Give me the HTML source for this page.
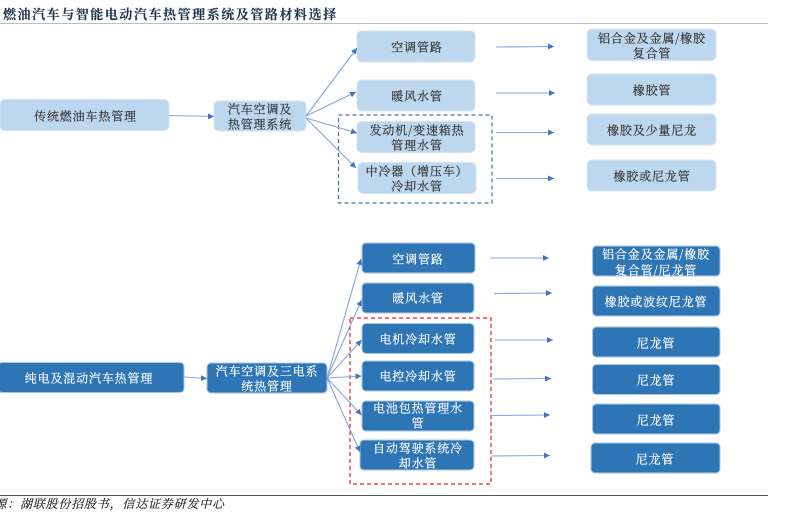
<!DOCTYPE html>
<html><head><meta charset="utf-8">
<style>
html,body{margin:0;padding:0;background:#fff;width:785px;height:529px;overflow:hidden}
svg{display:block;filter:blur(.35px)}
text{font-family:"Noto Serif CJK SC","Liberation Serif",serif;font-size:12px;letter-spacing:.85px;text-anchor:middle}
.l{fill:#bdd7ee;stroke:#d3e3f4;stroke-width:1}
.d{fill:#2e75b6;stroke:#a9c6e6;stroke-width:1}
.lt text{fill:#333;stroke:#333;stroke-width:.2}
.dt text{fill:#fff;stroke:#fff;stroke-width:.2}
.c line{stroke:#86a6dc;stroke-width:1.1}
</style></head><body>
<svg width="785" height="529" viewBox="0 0 785 529" xmlns="http://www.w3.org/2000/svg">
<defs><marker id="a" markerWidth="7" markerHeight="7" refX="6" refY="3" orient="auto" markerUnits="userSpaceOnUse"><path d="M0 0L6 3L0 6Z" fill="#4472c4"/></marker></defs>

<text x="3" y="19" style="text-anchor:start;font-size:13px;letter-spacing:1.55px;font-weight:700;fill:#1f3550;stroke:#1f3550;stroke-width:.15">燃油汽车与智能电动汽车热管理系统及管路材料选择</text>
<line x1="0" y1="23.5" x2="768" y2="23.5" stroke="#bdbdbd"/>
<line x1="0" y1="495.5" x2="768" y2="495.5" stroke="#555"/>
<text x="-5.6" y="508" style="text-anchor:start;font-style:italic;letter-spacing:.8px;fill:#222;stroke:#222;stroke-width:.15">源：湖联股份招股书，信达证券研发中心</text>

<g>
<rect class="l" x="0" y="99.5" width="169" height="31" rx="5"/>
<rect class="l" x="214" y="101" width="92" height="30" rx="5"/>
<rect class="l" x="357" y="31" width="118" height="31" rx="5"/>
<rect class="l" x="357" y="80" width="118" height="31" rx="5"/>
<rect class="l" x="357" y="121.5" width="118" height="31" rx="5"/>
<rect class="l" x="358" y="162.5" width="118" height="31" rx="5"/>
<rect class="l" x="587" y="29" width="129" height="31.5" rx="5"/>
<rect class="l" x="587" y="74" width="129" height="31" rx="5"/>
<rect class="l" x="587" y="114" width="129" height="31" rx="5"/>
<rect class="l" x="587" y="160" width="129" height="31" rx="5"/>

<rect class="d" x="-2" y="362.5" width="186" height="30" rx="4"/>
<rect class="d" x="207" y="363" width="120" height="30" rx="4"/>
<rect class="d" x="362" y="243" width="113" height="30" rx="4"/>
<rect class="d" x="362" y="283" width="112" height="30" rx="4"/>
<rect class="d" x="362" y="323.5" width="112" height="30" rx="4"/>
<rect class="d" x="362" y="361" width="112" height="30" rx="4"/>
<rect class="d" x="362" y="401" width="112" height="30" rx="4"/>
<rect class="d" x="360" y="440" width="114" height="30" rx="4"/>
<rect class="d" x="592.5" y="246" width="127.5" height="30" rx="4"/>
<rect class="d" x="592.5" y="286" width="127.5" height="30" rx="4"/>
<rect class="d" x="592.5" y="327" width="127.5" height="30" rx="4"/>
<rect class="d" x="592.5" y="364.5" width="127.5" height="30" rx="4"/>
<rect class="d" x="592.5" y="404" width="127.5" height="30" rx="4"/>
<rect class="d" x="591" y="443" width="129" height="30" rx="4"/>
</g>

<rect x="338.5" y="115" width="153.5" height="88" fill="none" stroke="#4a6fa8" stroke-width="1.2" stroke-dasharray="4 3"/>
<rect x="350" y="318" width="141" height="166" fill="none" stroke="#f01c2c" stroke-width="1.2" stroke-dasharray="4 3"/>

<g class="c">
<line x1="169" y1="115.5" x2="214" y2="116.5" marker-end="url(#a)"/>
<line x1="306" y1="116" x2="357" y2="48" marker-end="url(#a)"/>
<line x1="306" y1="116" x2="356" y2="92" marker-end="url(#a)"/>
<line x1="306" y1="118" x2="357" y2="133" marker-end="url(#a)"/>
<line x1="306" y1="118" x2="356" y2="168" marker-end="url(#a)"/>
<line x1="496" y1="47" x2="554" y2="46.5" marker-end="url(#a)"/>
<line x1="496" y1="93" x2="555" y2="93" marker-end="url(#a)"/>
<line x1="496" y1="132.5" x2="554" y2="132.5" marker-end="url(#a)"/>
<line x1="496" y1="178.5" x2="554" y2="178.5" marker-end="url(#a)"/>

<line x1="184" y1="377" x2="207" y2="378.5" marker-end="url(#a)"/>
<line x1="327" y1="378" x2="361" y2="259" marker-end="url(#a)"/>
<line x1="327" y1="378" x2="361.5" y2="300" marker-end="url(#a)"/>
<line x1="327" y1="378" x2="361.5" y2="340" marker-end="url(#a)"/>
<line x1="327" y1="378" x2="361.5" y2="376" marker-end="url(#a)"/>
<line x1="327" y1="378" x2="361.5" y2="415" marker-end="url(#a)"/>
<line x1="327" y1="378" x2="360" y2="452" marker-end="url(#a)"/>
<line x1="490" y1="258" x2="549" y2="258" marker-end="url(#a)"/>
<line x1="494" y1="293.5" x2="552" y2="293" marker-end="url(#a)"/>
<line x1="495" y1="340" x2="553" y2="340" marker-end="url(#a)"/>
<line x1="493" y1="379" x2="551" y2="378.5" marker-end="url(#a)"/>
<line x1="491" y1="415.5" x2="550" y2="415" marker-end="url(#a)"/>
<line x1="491" y1="456" x2="550" y2="455.5" marker-end="url(#a)"/>
</g>

<g class="lt">
<text x="85.5" y="120.5">传统燃油车热管理</text>
<text x="260" y="113.5">汽车空调及</text>
<text x="260" y="128.5">热管理系统</text>
<text x="417" y="51.5">空调管路</text>
<text x="417" y="100.5">暖风水管</text>
<text x="417" y="134.5">发动机/变速箱热</text>
<text x="417" y="149.5">管理水管</text>
<text x="417" y="175.5">中冷器（增压车）</text>
<text x="417" y="190.5">冷却水管</text>
<text x="652" y="42.5">铝合金及金属/橡胶</text>
<text x="652" y="57.5">复合管</text>
<text x="652" y="94.5">橡胶管</text>
<text x="652" y="134.5">橡胶及少量尼龙</text>
<text x="652" y="180.5">橡胶或尼龙管</text>
</g>
<g class="dt">
<text x="89" y="382.5">纯电及混动汽车热管理</text>
<text x="267" y="375.5">汽车空调及三电系</text>
<text x="267" y="390.5">统热管理</text>
<text x="418" y="263.5">空调管路</text>
<text x="418" y="302.5">暖风水管</text>
<text x="418" y="343.5">电机冷却水管</text>
<text x="418" y="380.5">电控冷却水管</text>
<text x="418" y="412.5">电池包热管理水</text>
<text x="418" y="427.5">管</text>
<text x="418" y="452.5">自动驾驶系统冷</text>
<text x="418" y="467.5">却水管</text>
<text x="656" y="258.5">铝合金及金属/橡胶</text>
<text x="656" y="274.5">复合管/尼龙管</text>
<text x="656" y="306">橡胶或波纹尼龙管</text>
<text x="656" y="347.5">尼龙管</text>
<text x="656" y="384.5">尼龙管</text>
<text x="656" y="424.5">尼龙管</text>
<text x="655" y="463.5">尼龙管</text>
</g>
</svg>
</body></html>
